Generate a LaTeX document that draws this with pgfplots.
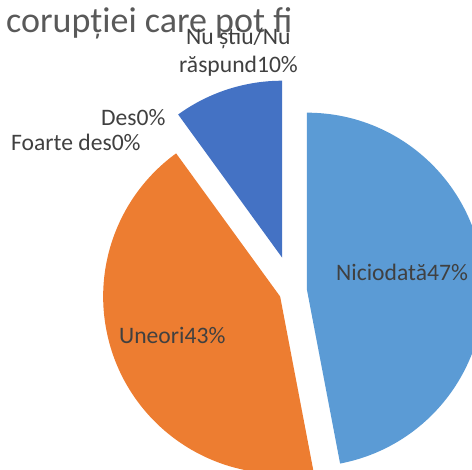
\documentclass[border=0pt]{standalone}
\usepackage{fontspec}
\setmainfont{Carlito}
\usepackage{pgfplots}
\usepackage{pgfplotstable}
\pgfplotsset{compat=1.18}
\definecolor{c0}{HTML}{5B9BD5}
\definecolor{c1}{HTML}{ED7D31}
\definecolor{c2}{HTML}{A5A5A5}
\definecolor{c3}{HTML}{FFC000}
\definecolor{c4}{HTML}{4472C4}
\definecolor{lbl}{HTML}{404040}
\definecolor{ttl}{HTML}{595959}
\pgfplotstableread[col sep=comma]{
label,value,explode
Niciodată,47,14
Uneori,43,14
Des,0,14
Foarte des,0,14
Nu știu/Nu răspund,10,35
}\piedata
\begin{document}
\begin{tikzpicture}
\begin{axis}[width=472bp,height=470bp,scale only axis,
  xmin=0,xmax=472,ymin=0,ymax=470,hide axis,clip=true]
\node[anchor=base west,text=ttl,inner sep=0pt,font=\fontsize{36bp}{43bp}\selectfont] at (axis cs:6,437) {corupției care pot fi};
\def\cum{0}
\pgfplotsforeachungrouped \i in {0,...,4}{%
 \pgfplotstablegetelem{\i}{value}\of\piedata\let\pv\pgfplotsretval
 \pgfplotstablegetelem{\i}{explode}\of\piedata\let\pe\pgfplotsretval
 \pgfmathsetmacro\sa{90-3.6*\cum}%
 \pgfmathsetmacro\sb{90-3.6*(\cum+\pv)}%
 \pgfmathsetmacro\sm{(\sa+\sb)/2}%
 \pgfmathsetmacro\ox{293+\pe*cos(\sm)}%
 \pgfmathsetmacro\oy{179+\pe*sin(\sm)}%
 \ifdim\pv pt>0pt
   \edef\temp{\noexpand\fill[c\i] (axis cs:\ox,\oy) -- ++(\sa:177bp) arc[start angle=\sa,end angle=\sb,radius=177bp] -- cycle;}%
   \temp
 \fi
 \pgfmathsetmacro\cum{\cum+\pv}%
}
\tikzset{lb/.style={anchor=base west,text=lbl,inner sep=0pt,font=\fontsize{23.6bp}{28.8bp}\selectfont}}
\node[lb] at (axis cs:336,190) {Niciodată47\%};
\node[lb] at (axis cs:119,127) {Uneori43\%};
\node[lb] at (axis cs:101,345) {Des0\%};
\node[lb] at (axis cs:11,320) {Foarte des0\%};
\node[lb] at (axis cs:186,425) {Nu știu/Nu};
\node[lb] at (axis cs:179,397) {răspund10\%};
\end{axis}
\pgfresetboundingbox
\useasboundingbox (0,0) rectangle (472bp,470bp);
\end{tikzpicture}
\end{document}
